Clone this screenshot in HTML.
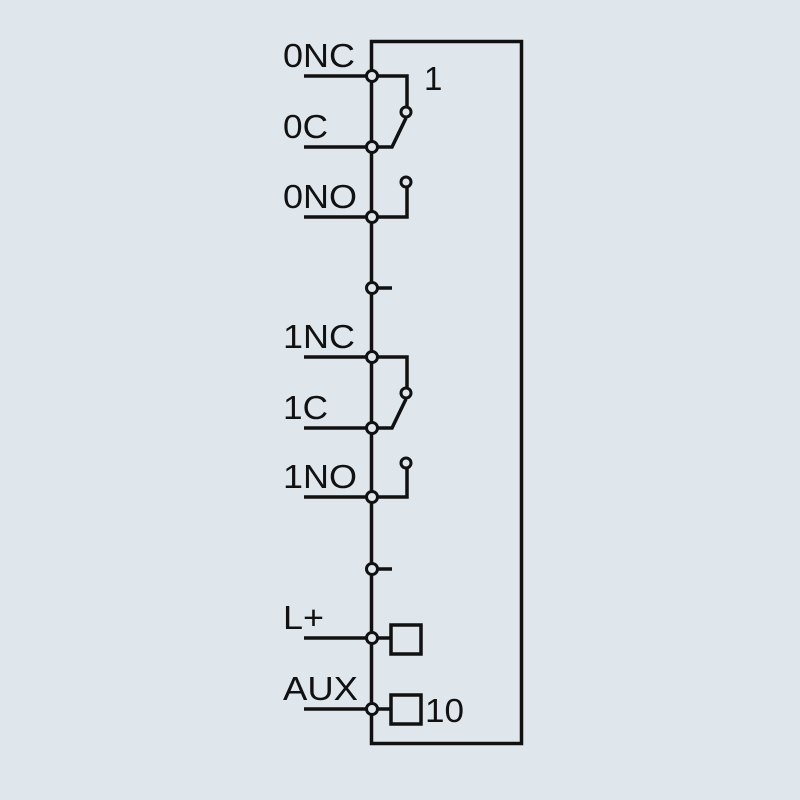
<!DOCTYPE html>
<html><head><style>body{margin:0;background:#dfe6ec}</style></head><body>
<svg width="800" height="800" xmlns="http://www.w3.org/2000/svg" style="display:block">
<rect width="800" height="800" fill="#dfe6ec"/>
<g stroke="#111" stroke-width="3.5" fill="none">
<rect x="371.5" y="41.5" width="150" height="702"/>
<path d="M304 76H372M304 147H372M304 217H372M304 638H372M304 709H372M304 357H372M304 428H372M304 497H372"/>
<path d="M372 76H407V106M372 147H392L406 118"/>
<path d="M372 217H407V183"/>
<path d="M372 288H392M372 569H392"/>
<path d="M372 357H407V387M372 428H392L406 399"/>
<path d="M372 497H407V463"/>
<path d="M372 638H391M372 709H391"/>
<rect x="391" y="625" width="30" height="29"/>
<rect x="391" y="695" width="30" height="29"/>
<g fill="#dfe6ec" stroke-width="3">
<circle cx="372" cy="76" r="5.5"/><circle cx="372" cy="147" r="5.5"/><circle cx="372" cy="217" r="5.5"/><circle cx="372" cy="288" r="5.5"/>
<circle cx="372" cy="357" r="5.5"/><circle cx="372" cy="428" r="5.5"/><circle cx="372" cy="497" r="5.5"/><circle cx="372" cy="569" r="5.5"/>
<circle cx="372" cy="638" r="5.5"/><circle cx="372" cy="709" r="5.5"/>
<circle cx="406" cy="112" r="5"/><circle cx="406" cy="182" r="5"/><circle cx="406" cy="393" r="5"/><circle cx="406" cy="463" r="5"/>
</g>
</g>
<g font-family="Liberation Sans, sans-serif" font-size="33" fill="#111">
<text x="283" y="67" textLength="72" lengthAdjust="spacingAndGlyphs">0NC</text>
<text x="283" y="138" textLength="45" lengthAdjust="spacingAndGlyphs">0C</text>
<text x="283" y="208" textLength="74" lengthAdjust="spacingAndGlyphs">0NO</text>
<text x="283" y="348" textLength="72" lengthAdjust="spacingAndGlyphs">1NC</text>
<text x="283" y="419" textLength="45" lengthAdjust="spacingAndGlyphs">1C</text>
<text x="283" y="488" textLength="74" lengthAdjust="spacingAndGlyphs">1NO</text>
<text x="283" y="629" textLength="41" lengthAdjust="spacingAndGlyphs">L+</text>
<text x="283" y="700" textLength="75" lengthAdjust="spacingAndGlyphs">AUX</text>
<text x="424" y="90">1</text>
<text x="425" y="722" textLength="39" lengthAdjust="spacingAndGlyphs">10</text>
</g>
</svg>
</body></html>
